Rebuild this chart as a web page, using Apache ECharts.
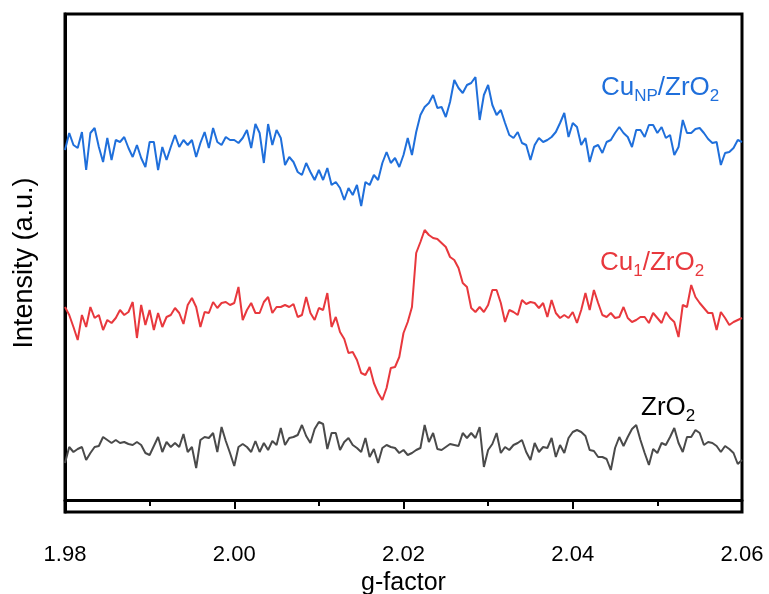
<!DOCTYPE html>
<html>
<head>
<meta charset="utf-8">
<script src="https://cdn.jsdelivr.net/npm/echarts@6/dist/echarts.min.js"></script>
<style>
html,body{margin:0;padding:0;background:#fff;}
#chart{width:769px;height:594px;}
</style>
</head>
<body>
<div id="chart"></div>
<script>
// g-factor sampling grid
const gStart = 1.98;
const gStep = 0.0005;
const xTicks = [1.98, 2.00, 2.02, 2.04, 2.06];

// Intensity (a.u.), offset traces
const cuNP = [350,367,355,352,368,330,367,372,353,338,362,340,360,358,363,352,343,355,342,333,358,358,330,353,340,353,365,353,360,355,360,343,357,368,352,372,358,355,363,360,360,357,362,370,352,376,367,337,376,355,370,362,335,343,338,328,325,337,328,320,330,320,332,315,318,312,300,312,305,315,294,318,315,325,320,337,348,337,342,333,345,
362,345,368,385,393,397,405,392,393,383,398,420,412,407,415,417,423,380,405,415,395,385,390,377,365,362,368,357,355,340,355,362,358,360,363,368,377,387,363,377,373,355,362,338,353,355,347,358,360,367,373,367,363,353,370,370,363,375,375,367,373,362,365,345,353,380,367,367,371,372,367,361,357,358,335,347,348,352,360,358];

const cu1 = [193,185,173,160,185,173,193,182,185,170,180,177,182,190,185,188,198,162,195,175,190,170,187,173,183,185,192,187,176,195,202,193,173,188,187,198,192,197,198,195,197,213,180,190,197,187,187,198,203,187,193,193,195,193,196,183,185,203,187,180,192,190,207,173,183,168,161,147,148,140,127,125,133,117,107,100,112,132,133,143,167,
178,193,247,258,270,265,262,261,257,253,243,240,232,217,213,192,188,193,188,195,210,210,197,178,190,188,185,200,196,198,197,192,197,183,200,187,182,185,182,188,177,190,207,190,210,197,185,183,187,182,183,193,182,178,180,183,183,177,187,182,177,188,182,178,163,195,193,215,203,197,192,187,187,170,188,182,175,178,180,182];

const zrO2 = [37,53,48,51,53,40,47,53,54,63,60,57,60,57,58,56,55,58,55,47,45,54,63,48,58,53,57,53,66,48,53,32,60,63,62,67,48,73,59,47,34,53,56,53,48,59,48,57,50,59,55,72,55,62,63,65,75,64,57,71,78,76,51,67,67,50,58,62,55,52,48,62,43,51,37,52,55,53,52,47,50,
45,47,50,52,75,58,67,51,50,53,56,55,54,67,62,67,62,73,33,50,56,67,47,53,50,55,57,60,48,40,57,48,53,52,62,43,55,47,62,68,70,68,64,50,49,43,43,41,30,52,63,54,63,71,75,60,47,35,51,47,57,55,63,72,57,48,63,63,70,67,55,58,57,54,48,54,51,47,36,40];

const seriesNames = ['CuNP/ZrO2', 'Cu1/ZrO2', 'ZrO2'];
const seriesColors = ['#1f6fdb', '#e8383d', '#4a4a4a'];

function pairs(vals) {
  return vals.map((v, i) => [+(gStart + i * gStep).toFixed(4), v]);
}

const chart = echarts.init(document.getElementById('chart'), null, {renderer: 'canvas'});
const FONT = '"Liberation Sans", Arial, sans-serif';

function richLabel(color) {
  return {
    m: {fontSize: 26, fontFamily: FONT, fill: color, lineHeight: 34, verticalAlign: 'middle'},
    s: {fontSize: 17, fontFamily: FONT, fill: color, lineHeight: 17, verticalAlign: 'bottom'}
  };
}

const option = {
  animation: false,
  backgroundColor: '#fff',
  grid: {
    left: 65, right: 27, top: 14, bottom: 82,
    containLabel: false, outerBoundsMode: 'none',
    show: true, borderColor: '#000', borderWidth: 3, backgroundColor: 'transparent'
  },
  xAxis: {
    type: 'value',
    min: xTicks[0], max: xTicks[xTicks.length - 1], interval: 0.02,
    axisLine: {show: true, lineStyle: {color: '#000', width: 3}},
    axisTick: {show: true, inside: false, length: 9, lineStyle: {color: '#000', width: 2}},
    minorTick: {show: true, splitNumber: 2, length: 6, lineStyle: {color: '#000', width: 2}},
    splitLine: {show: false},
    axisLabel: {
      color: '#000', fontSize: 22, fontFamily: FONT, margin: 32,
      formatter: v => v.toFixed(2)
    },
    name: 'g-factor', nameLocation: 'middle', nameGap: 54,
    nameTextStyle: {color: '#000', fontSize: 25, fontFamily: FONT}
  },
  yAxis: {
    type: 'value', min: -12, max: 486,
    axisLine: {show: true, lineStyle: {color: '#000', width: 3}},
    axisTick: {show: false},
    axisLabel: {show: false},
    splitLine: {show: false},
    name: 'Intensity (a.u.)', nameLocation: 'middle', nameGap: 27,
    nameTextStyle: {color: '#000', fontSize: 27, fontFamily: FONT}
  },
  series: [cuNP, cu1, zrO2].map((vals, k) => ({
    name: seriesNames[k],
    type: 'line',
    data: pairs(vals),
    showSymbol: false,
    symbol: 'none',
    lineStyle: {color: seriesColors[k], width: 2},
    z: 3
  })),
  graphic: [
    {
      type: 'text', left: 601, top: 75, z: 10,
      style: {rich: richLabel(seriesColors[0]), text: '{m|Cu}{s|NP}{m|/ZrO}{s|2}'}
    },
    {
      type: 'text', left: 600, top: 250, z: 10,
      style: {rich: richLabel(seriesColors[1]), text: '{m|Cu}{s|1}{m|/ZrO}{s|2}'}
    },
    {
      type: 'text', left: 641, top: 395, z: 10,
      style: {rich: richLabel('#000'), text: '{m|ZrO}{s|2}'}
    }
  ]
};
chart.setOption(option);
</script>
</body>
</html>
